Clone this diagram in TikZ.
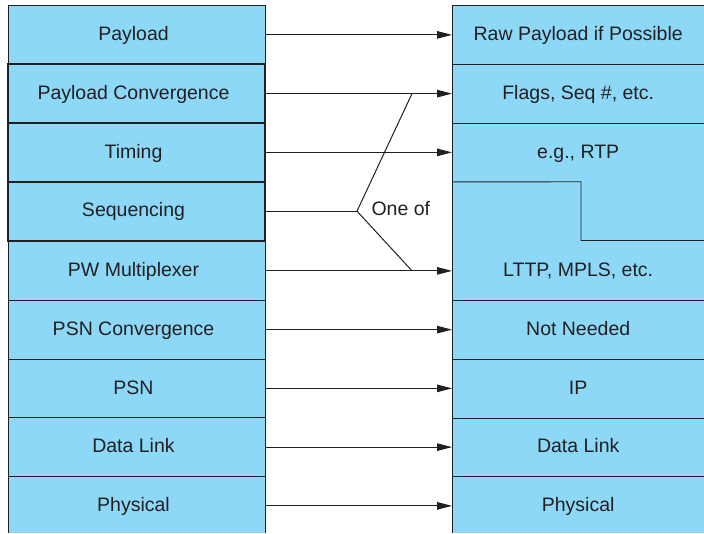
\documentclass[tikz,border=0pt]{standalone}
\usepackage{fontspec}
\setmainfont{Liberation Sans}
\usetikzlibrary{arrows.meta}
\definecolor{boxblue}{RGB}{141,216,247}
\definecolor{ink}{RGB}{35,31,32}
\tikzset{
  lbox/.style={rectangle, fill=boxblue, draw=ink, line width=0.9pt, minimum width=257pt, minimum height=58.75pt, inner sep=0pt, text=ink, text height=14pt, text depth=2.6pt, font=\fontsize{19.5}{22}\selectfont, execute at begin node={\hspace*{-6pt}}},
  thickbox/.style={lbox, line width=2pt},
  rtext/.style={rectangle, minimum width=252pt, minimum height=58.75pt, inner sep=0pt, text=ink, text height=14pt, text depth=2.6pt, font=\fontsize{19.5}{22}\selectfont},
  rline/.style={draw=ink, line width=0.9pt},
  arr/.style={draw=ink, line width=1pt, -{Triangle[length=15pt,width=7.5pt]}},
  branch/.style={draw=ink, line width=1pt},
}
\begin{document}
\begin{tikzpicture}[x=1pt,y=-1pt]
\useasboundingbox (0,0) rectangle (704,533);
\clip (0,0) rectangle (704,532.6);
% left column
\node[lbox] (L1) at (136.5,34.875) {Payload};
\node[lbox] (L5) at (136.5,270.875) {PW Multiplexer};
\node[lbox] (L6) at (136.5,329.625) {PSN Convergence};
\node[lbox] (L7) at (136.5,388.375) {PSN};
\node[lbox] (L8) at (136.5,447.125) {Data Link};
\node[lbox] (L9) at (136.5,505.875) {Physical};
\node[thickbox] (L2) at (136.5,93.625) {Payload Convergence};
\node[thickbox] (L3) at (136.5,152.375) {Timing};
\node[thickbox] (L4) at (136.5,211.125) {Sequencing};
% right column background and outlines
\fill[boxblue] (452,5.5) rectangle (720,545);
\draw[rline] (720,5.5) -- (452,5.5) -- (452,545);
\node[rtext, anchor=west] (R1) at (452,34.875) {Raw Payload if Possible};
\node[rtext, anchor=west] (R2) at (452,93.625) {Flags, Seq \#, etc.};
\node[rtext, anchor=west] (R3) at (452,152.375) {e.g., RTP};
\node[rtext, anchor=west] (R5) at (452,270.875) {LTTP, MPLS, etc.};
\node[rtext, anchor=west] (R6) at (452,329.625) {Not Needed};
\node[rtext, anchor=west] (R7) at (452,388.375) {IP};
\node[rtext, anchor=west] (R8) at (452,447.125) {Data Link};
\node[rtext, anchor=west] (R9) at (452,505.875) {Physical};
\draw[rline] (R1.south west) -- ++(270,0);
\draw[rline] (R2.south west) -- ++(270,0);
\coordinate (stepA) at (581,181.75);
\coordinate (stepB) at (581,240.5);
\draw[rline] (R3.south west) -- (stepA) -- (stepB) -- (720,240.5);
\draw[rline] (R5.south west) -- ++(270,0);
\draw[rline] (R6.south west) -- ++(270,0);
\draw[rline] (R7.south west) -- ++(270,0);
\draw[rline] (R8.south west) -- ++(270,0);
% arrows
\foreach \i in {1,2,3,5,6,7,8,9} {
  \draw[arr] (L\i.east) -- (R\i.west);
}
% branch "One of"
\coordinate (br) at (357,211.125);
\coordinate (bup) at (412,93.625);
\coordinate (bdn) at (412,270.875);
\draw[branch] (L4.east) -- (br);
\draw[branch] (bup) -- (br) -- (bdn);
\node[text=ink, font=\fontsize{19.5}{22}\selectfont, anchor=west] (oneof) at (368,209) {One of};
\end{tikzpicture}
\end{document}
